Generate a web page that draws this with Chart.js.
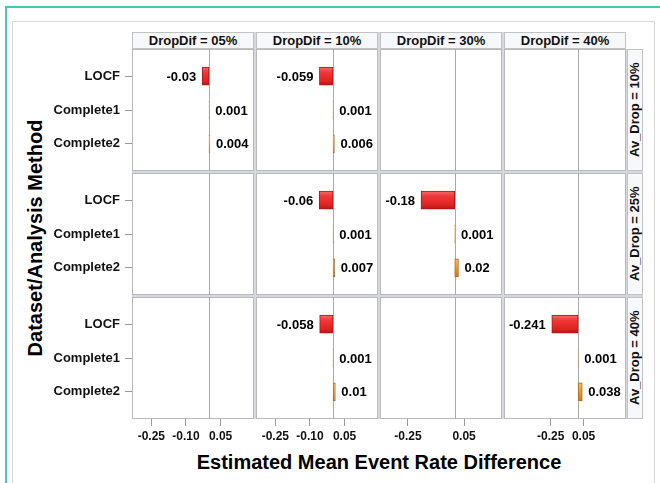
<!DOCTYPE html>
<html>
<head>
  <title>Estimated Mean Event Rate Difference</title>
  <script src="https://cdn.jsdelivr.net/npm/chart.js"></script>
  <style>
    body { margin: 0; background: #fff; font-family: "Liberation Sans", Arial, sans-serif; }
    #page { position: relative; width: 660px; height: 483px; overflow: hidden; }
    .abs { position: absolute; box-sizing: border-box; }
    .panel { background: #fff; border: 1px solid #b9b9b9; }
    .colHead { background: #f7f8fc; border: 1px solid #c2c2c2; font-weight: bold; font-size: 13px;
      text-align: center; line-height: 15px; color: #111; }
    .rowHead { background: #f7f8fc; border: 1px solid #c2c2c2; font-weight: bold; font-size: 13px;
      writing-mode: vertical-rl; transform: rotate(180deg); text-align: center; line-height: 14px; color: #111; }
    canvas { position: absolute; }
  </style>
</head>
<body>
<div id="page">
  <div class="abs" style="left:5px;top:6px;width:660px;height:490px;border-left:2px solid #46c9b2;border-top:2px solid #46c9b2;"></div>
  <div class="abs" style="left:12px;top:21px;width:643px;height:480px;border:1px solid #d9d9d9;"></div>
  <div class="abs" id="yTitle" style="left:-85px;top:226px;width:240px;height:24px;transform:rotate(-90deg);
    font-weight:bold;font-size:20px;text-align:center;line-height:24px;color:#000;">Dataset/Analysis Method</div>
  <div class="abs" style="left:132px;top:450px;width:494px;height:24px;font-weight:bold;font-size:20px;
    text-align:center;line-height:24px;color:#000;">Estimated Mean Event Rate Difference</div>
</div>

<script>
const colHeaders = ['DropDif = 05%', 'DropDif = 10%', 'DropDif = 30%', 'DropDif = 40%'];
const rowHeaders = ['Av_Drop = 10%', 'Av_Drop = 25%', 'Av_Drop = 40%'];
const methods = ['LOCF', 'Complete1', 'Complete2'];

// values per panel (one entry per DropDif column), null = no data
const avDrop10 = [[-0.03, 0.001, 0.004], [-0.059, 0.001, 0.006], null, null];
const avDrop25 = [null, [-0.06, 0.001, 0.007], [-0.18, 0.001, 0.02], null];
const avDrop40 = [null, [-0.058, 0.001, 0.01], null, [-0.241, 0.001, 0.038]];
const rows = [avDrop10, avDrop25, avDrop40];

// each DropDif column has its own x axis
const xMin = [-0.334, -0.334, -0.399, -0.678];
const xMax = [0.195, 0.195, 0.2525, 0.438];
const xTicks = [[-0.25, -0.10, 0.05], [-0.25, -0.10, 0.05], [-0.25, 0.05], [-0.25, 0.05]];
const xTickLabels = [['-0.25', '-0.10', '0.05'], ['-0.25', '-0.10', '0.05'], ['-0.25', '0.05'], ['-0.25', '0.05']];

const colLeft = [132, 256, 380, 504];
const rowTop = [49, 173, 297];
const PW = 122, PH = 122;
const YAXIS_W = 102, XAXIS_H = 30;

const page = document.getElementById('page');

function addDiv(cls, left, top, w, h, text, bg) {
  const d = document.createElement('div');
  d.className = 'abs ' + cls;
  d.style.left = left + 'px'; d.style.top = top + 'px';
  d.style.width = w + 'px'; d.style.height = h + 'px';
  if (bg) d.style.background = bg;
  if (text) d.textContent = text;
  page.appendChild(d);
  return d;
}

// grey band between the cells
addDiv('', 132, 32, 494, 387, '', '#d5d8dc');
addDiv('', 626, 49, 17, 370, '', '#d5d8dc');

for (let c = 0; c < 4; c++) addDiv('colHead', colLeft[c], 32, PW, 17, colHeaders[c]);
for (let r = 0; r < 3; r++) addDiv('rowHead', 627, rowTop[r], 16, PH, rowHeaders[r]);
for (let r = 0; r < 3; r++)
  for (let c = 0; c < 4; c++) addDiv('panel', colLeft[c], rowTop[r], PW, PH);

function barFill(ctx) {
  const ch = ctx.chart;
  const v = ctx.raw ? ctx.raw.x : 0;
  const flat = v < 0 ? '#e52a2a' : '#e8a33d';
  if (!ch.chartArea || !ch.scales.y) return flat;
  const y = ch.scales.y.getPixelForValue(ctx.dataIndex);
  if (!isFinite(y)) return flat;
  const g = ch.ctx.createLinearGradient(0, y - 9, 0, y + 9);
  if (v < 0) {
    g.addColorStop(0, '#f46a6a');
    g.addColorStop(0.3, '#f03636');
    g.addColorStop(0.75, '#e02424');
    g.addColorStop(1, '#b51616');
  } else {
    g.addColorStop(0, '#f3c070');
    g.addColorStop(0.4, '#eaa23e');
    g.addColorStop(1, '#c87a1e');
  }
  return g;
}

const zeroLine = {
  id: 'zeroLine',
  beforeDatasetsDraw(chart) {
    const x = Math.round(chart.scales.x.getPixelForValue(0)) + 0.5;
    const a = chart.chartArea;
    const ctx = chart.ctx;
    ctx.save();
    ctx.strokeStyle = '#a9a9a9';
    ctx.lineWidth = 1;
    ctx.beginPath();
    ctx.moveTo(x, a.top);
    ctx.lineTo(x, a.bottom);
    ctx.stroke();
    ctx.restore();
  }
};

const valueLabels = {
  id: 'valueLabels',
  afterDatasetsDraw(chart) {
    const ctx = chart.ctx;
    const meta = chart.getDatasetMeta(0);
    const data = chart.data.datasets[0].data;
    ctx.save();
    ctx.font = 'bold 13px "Liberation Sans", Arial, sans-serif';
    ctx.fillStyle = '#000';
    ctx.textBaseline = 'middle';
    meta.data.forEach((el, i) => {
      const v = data[i].x;
      if (v < 0) {
        ctx.textAlign = 'right';
        ctx.fillText(String(v), el.x - 6, el.y + 1);
      } else {
        ctx.textAlign = 'left';
        ctx.fillText(String(v), el.x + 6, el.y + 1);
      }
    });
    ctx.restore();
  }
};

function makePanel(r, c) {
  const vals = rows[r][c];
  const showY = c === 0, showX = r === 2;
  const canvas = document.createElement('canvas');
  const left = colLeft[c] - (showY ? YAXIS_W : 0);
  const w = PW + (showY ? YAXIS_W : 0);
  const h = PH + (showX ? XAXIS_H : 0);
  canvas.width = w; canvas.height = h;
  canvas.style.left = left + 'px';
  canvas.style.top = rowTop[r] + 'px';
  canvas.style.width = w + 'px';
  canvas.style.height = h + 'px';
  page.appendChild(canvas);

  const points = vals ? vals.map((v, i) => ({ x: v, y: i })) : [];

  new Chart(canvas, {
    type: 'bar',
    data: {
      datasets: [{
        data: points,
        backgroundColor: barFill,
        borderColor: ctx => (ctx.raw && ctx.raw.x < 0) ? '#a31b1b' : '#b36a14',
        borderWidth: 1,
        borderSkipped: false,
        barThickness: 18
      }]
    },
    options: {
      indexAxis: 'y',
      responsive: false,
      maintainAspectRatio: false,
      animation: false,
      layout: { padding: 0 },
      plugins: { legend: { display: false }, tooltip: { enabled: false } },
      scales: {
        x: {
          type: 'linear',
          min: xMin[c], max: xMax[c],
          display: showX,
          afterBuildTicks: s => { s.ticks = xTicks[c].map(v => ({ value: v })); },
          afterFit: s => {
            s.height = showX ? XAXIS_H : 0;
            s.paddingLeft = 0; s.paddingRight = 0;
          },
          border: { display: false },
          grid: { drawOnChartArea: false, tickLength: 7, color: '#9a9a9a' },
          ticks: {
            autoSkip: false, maxRotation: 0, padding: 3, color: '#111',
            font: { family: '"Liberation Sans", Arial, sans-serif', size: 12, weight: 'bold' },
            callback: (v, i) => xTickLabels[c][i]
          }
        },
        y: {
          type: 'linear',
          min: -0.8, max: 2.8,
          reverse: true,
          offset: false,
          display: showY,
          afterBuildTicks: s => { s.ticks = methods.map((m, i) => ({ value: i })); },
          afterFit: s => {
            s.width = showY ? YAXIS_W : 0;
            s.paddingTop = 0; s.paddingBottom = 0;
          },
          border: { display: false },
          grid: { drawOnChartArea: false, offset: false, tickLength: 7, color: '#9a9a9a' },
          ticks: {
            autoSkip: false, padding: 5, color: '#111',
            font: { family: '"Liberation Sans", Arial, sans-serif', size: 13, weight: 'bold' },
            callback: (v, i) => methods[i]
          }
        }
      }
    },
    plugins: [zeroLine, valueLabels]
  });
}

for (let r = 0; r < 3; r++)
  for (let c = 0; c < 4; c++) makePanel(r, c);
</script>
</body>
</html>
